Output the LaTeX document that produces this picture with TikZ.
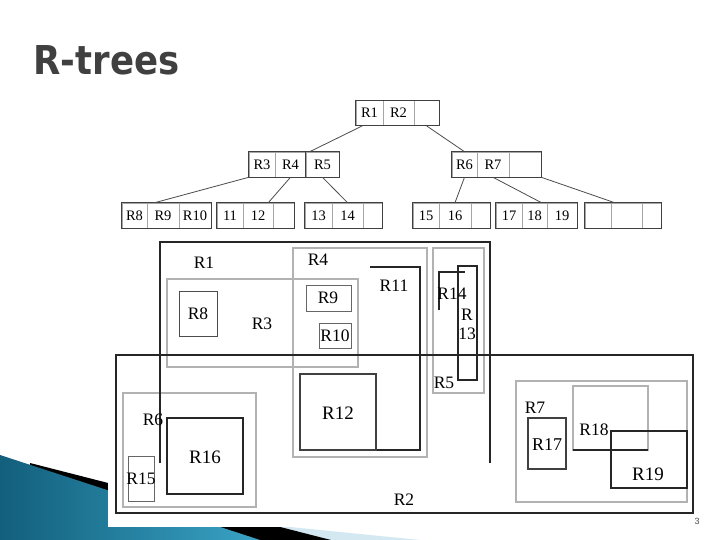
\documentclass[tikz,border=0pt]{standalone}
\usepackage{fontspec}
\setmainfont{Liberation Serif}
\newfontfamily\titlefont{DejaVu Sans}
\newfontfamily\pagefont{Liberation Sans}
\usetikzlibrary{positioning, fit, backgrounds}

\definecolor{slidegray}{HTML}{404040}
\definecolor{tealdark}{HTML}{125F7C}
\definecolor{teallight}{HTML}{3AA3C6}
\definecolor{paleblue}{HTML}{D3E8F0}

\begin{document}
\begin{tikzpicture}[x=1pt, y=-1pt,
    cell/.style={draw=gray!70, line width=0.6pt, minimum height=25pt, inner sep=0pt, font=\fontsize{14.5}{14.5}\selectfont},
    treebox/.style={draw=black!75, line width=1.2pt, inner sep=0pt},
    link/.style={draw=black!70, line width=0.8pt},
    mbr/.style={draw=black!85, line width=1.2pt},
    mbrgray/.style={draw=gray!60, line width=1.1pt},
    lbl/.style={font=\fontsize{17.5}{17.5}\selectfont, inner sep=0pt}]
    \useasboundingbox (0,0) rectangle (720,540);
    \fill[white] (0,0) rectangle (720,540);

    % Slide decoration
    \fill[paleblue] (200,518) -- (420,540) -- (200,540) -- cycle;
    \fill[black] (30,463) -- (331,540) -- (30,540) -- cycle;
    \shade[left color=tealdark, right color=teallight] (0,455) -- (260,540) -- (0,540) -- cycle;
    \fill[white] (108,95) rectangle (700,527);

    % Title
    \node[anchor=base west, text=slidegray, font=\titlefont\bfseries\fontsize{35.5}{35.5}\selectfont] (title) at (30,75) {\scalebox{1}[1.12]{R-trees}};
    \node[font=\pagefont\fontsize{9}{9}\selectfont, text=black!70] (pagenum) at (697,521) {3};

    % Root
    \node[cell, minimum width=27pt] (t-r1) at (369.5,113) {R1};
    \node[cell, minimum width=31pt] (t-r2) at (398.5,113) {R2};
    \node[cell, minimum width=25pt] (t-e0) at (426.5,113) {};
    \node[treebox, fit=(t-r1)(t-e0)] (root) {};

    % Second level
    \node[cell, minimum width=26pt] (t-r3) at (262,164.5) {R3};
    \node[cell, minimum width=31pt] (t-r4) at (290.5,164.5) {R4};
    \node[cell, minimum width=33pt] (t-r5) at (322.5,164.5) {R5};
    \node[treebox, fit=(t-r3)(t-r5)] (mid-left) {};
    \draw[treebox] (t-r5.north west) -- (t-r5.south west);
    \node[cell, minimum width=25pt] (t-r6) at (464.5,164.5) {R6};
    \node[cell, minimum width=32pt] (t-r7) at (493,164.5) {R7};
    \node[cell, minimum width=32pt] (t-e1) at (525,164.5) {};
    \node[treebox, fit=(t-r6)(t-e1)] (mid-right) {};

    % Leaves
    \node[cell, minimum width=25pt] (t-r8) at (134.5,215.5) {R8};
    \node[cell, minimum width=32pt] (t-r9) at (163,215.5) {R9};
    \node[cell, minimum width=32pt] (t-r10) at (195,215.5) {R10};
    \node[treebox, fit=(t-r8)(t-r10)] (leaf1) {};
    \node[cell, minimum width=26pt] (t-11) at (230,215.5) {11};
    \node[cell, minimum width=30pt] (t-12) at (258,215.5) {12};
    \node[cell, minimum width=21pt] (t-e2) at (283.5,215.5) {};
    \node[treebox, fit=(t-11)(t-e2)] (leaf2) {};
    \node[cell, minimum width=27pt] (t-13) at (318.5,215.5) {13};
    \node[cell, minimum width=31pt] (t-14) at (347.5,215.5) {14};
    \node[cell, minimum width=19pt] (t-e3) at (372.5,215.5) {};
    \node[treebox, fit=(t-13)(t-e3)] (leaf3) {};
    \node[cell, minimum width=26pt] (t-15) at (426,215.5) {15};
    \node[cell, minimum width=32pt] (t-16) at (455,215.5) {16};
    \node[cell, minimum width=19pt] (t-e4) at (480.5,215.5) {};
    \node[treebox, fit=(t-15)(t-e4)] (leaf4) {};
    \node[cell, minimum width=26pt] (t-17) at (509,215.5) {17};
    \node[cell, minimum width=25pt] (t-18) at (534.5,215.5) {18};
    \node[cell, minimum width=30pt] (t-19) at (562,215.5) {19};
    \node[treebox, fit=(t-17)(t-19)] (leaf5) {};
    \node[cell, minimum width=26pt] (t-e5) at (598,215.5) {};
    \node[cell, minimum width=31pt] (t-e6) at (626.5,215.5) {};
    \node[cell, minimum width=19pt] (t-e7) at (651.5,215.5) {};
    \node[treebox, fit=(t-e5)(t-e7)] (leaf6) {};

    % Pointers
    \draw[link] ([xshift=-7pt]t-r1.south) -- ([xshift=4pt]t-r5.north west);
    \draw[link] (t-e0.south) -- (t-r6.north);
    \draw[link] (t-r3.south west) -- ([xshift=8pt]t-r9.north west);
    \draw[link] (t-r4.south) -- ([xshift=-5pt]t-12.north east);
    \draw[link] (t-r5.south) -- (t-14.north);
    \draw[link] (t-r6.south) -- (t-16.north);
    \draw[link] (t-r7.south) -- ([xshift=7pt]t-18.north);
    \draw[link] (t-e1.south east) -- ([xshift=4pt]t-e6.north west);

    % Regions
    \draw[mbrgray] (167,279) rectangle (358,367);
    \draw[mbrgray] (293,248) rectangle (427,457);
    \draw[mbrgray] (433,248) rectangle (484,393);
    \draw[mbrgray] (123,393) rectangle (256,507);
    \draw[mbrgray] (516,381) rectangle (687,502);
    \draw[mbrgray] (573,386) rectangle (648,450);
    \draw[mbr] (160,463) -- (160,242) -- (490,242) -- (490,463);
    \draw[mbr] (116,355) rectangle (693,513);
    \draw[mbr, draw=black!70, line width=1pt] (179,291) rectangle (217,336);
    \draw[mbr, draw=black!60, line width=1pt] (306,285) rectangle (351,311);
    \draw[mbr, draw=black!60, line width=1pt] (319,323) rectangle (351,348);
    \draw[mbr] (370,267) -- (420,267) -- (420,450) -- (376,450);
    \draw[mbr, draw=black!75] (300,374) rectangle (376,450);
    \draw[mbr] (458,266) rectangle (477,380);
    \draw[mbr] (439,310) -- (439,272) -- (465,272);
    \draw[mbr, draw=black!60, line width=1pt] (128,456) rectangle (154,501);
    \draw[mbr] (167,418) rectangle (243,494);
    \draw[mbr, draw=black!75] (528,418) rectangle (566,469);
    \draw[mbr] (573,450) -- (648,450);
    \draw[mbr] (611,431) rectangle (687,488);

    % Region labels
    \node[lbl] (l-r1) at (204,263) {R1};
    \node[lbl] (l-r4) at (318,260) {R4};
    \node[lbl] (l-r11) at (394,286) {R11};
    \node[lbl] (l-r8) at (198,314) {R8};
    \node[lbl] (l-r3) at (262,324) {R3};
    \node[lbl] (l-r9) at (328,298) {R9};
    \node[lbl] (l-r10) at (335,336) {R10};
    \node[lbl] (l-r14) at (452,294) {R14};
    \node[lbl] (l-r13a) at (467,315) {R};
    \node[lbl] (l-r13b) at (467,334) {13};
    \node[lbl] (l-r5) at (444,383) {R5};
    \node[lbl, font=\fontsize{19}{19}\selectfont] (l-r12) at (338,413) {R12};
    \node[lbl] (l-r6) at (153,420) {R6};
    \node[lbl, font=\fontsize{19}{19}\selectfont] (l-r16) at (205,457) {R16};
    \node[lbl] (l-r15) at (141,479) {R15};
    \node[lbl] (l-r2) at (404,500) {R2};
    \node[lbl] (l-r7) at (535,408) {R7};
    \node[lbl, font=\fontsize{18}{18}\selectfont] (l-r17) at (547,445) {R17};
    \node[lbl] (l-r18) at (594,430) {R18};
    \node[lbl, font=\fontsize{19}{19}\selectfont] (l-r19) at (648,474) {R19};
\end{tikzpicture}
\end{document}
